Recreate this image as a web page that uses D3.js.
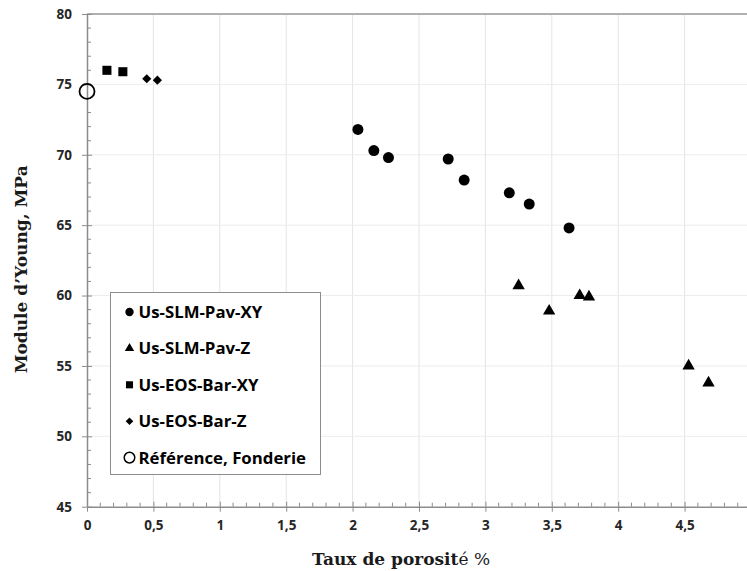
<!DOCTYPE html>
<html>
<head>
<meta charset="utf-8">
<script src="https://d3js.org/d3.v7.min.js"></script>
<style>
  body { margin: 0; background: #fff; }
  svg { display: block; }
  .tick-label { font-family: "Open Sans", sans-serif; font-weight: 700; font-size: 13.5px; fill: #262626; }
  .legend-label { font-family: "Open Sans", sans-serif; font-weight: 700; font-size: 16.8px; fill: #000; }
  .axis-title { font-family: "DejaVu Serif", serif; font-weight: 700; font-size: 17px; fill: #1a1a1a; }
</style>
</head>
<body>
<div id="chart"></div>
<script>
// porosity (%) vs Young's modulus
const slmPavXY_x = [2.04, 2.16, 2.27, 2.72, 2.84, 3.18, 3.33, 3.63];
const slmPavXY_y = [71.8, 70.3, 69.8, 69.7, 68.2, 67.3, 66.5, 64.8];
const slmPavZ_x = [3.25, 3.48, 3.71, 3.78, 4.53, 4.68];
const slmPavZ_y = [60.7, 58.9, 60.0, 59.9, 55.0, 53.8];
const eosBarXY_x = [0.15, 0.27];
const eosBarXY_y = [76.0, 75.9];
const eosBarZ_x = [0.45, 0.53];
const eosBarZ_y = [75.4, 75.3];
const ref_x = [0];
const ref_y = [74.5];

const seriesNames = ["Us-SLM-Pav-XY", "Us-SLM-Pav-Z", "Us-EOS-Bar-XY", "Us-EOS-Bar-Z", "Référence, Fonderie"];
const xTicks = [0, 0.5, 1, 1.5, 2, 2.5, 3, 3.5, 4, 4.5, 5];
const yTicks = [45, 50, 55, 60, 65, 70, 75, 80];

const W = 747, H = 571;
const pLeft = 87, pRight = 751, pTop = 14, pBottom = 506.7;

const svg = d3.select("#chart").append("svg")
    .attr("width", W).attr("height", H);

const x = d3.scaleLinear().domain([0, 5]).range([pLeft, pRight]);
const y = d3.scaleLinear().domain([45, 80]).range([pBottom, pTop]);

// gridlines
svg.append("g").selectAll("line").data(xTicks.filter(d => d > 0))
    .join("line")
    .attr("x1", d => x(d)).attr("x2", d => x(d))
    .attr("y1", pTop).attr("y2", pBottom)
    .attr("stroke", "#e4e4e4").attr("stroke-width", 1);
svg.append("g").selectAll("line").data(yTicks.filter(d => d > 45 && d < 80))
    .join("line")
    .attr("x1", pLeft).attr("x2", pRight)
    .attr("y1", d => y(d)).attr("y2", d => y(d))
    .attr("stroke", "#ececec").attr("stroke-width", 1);

// top border
svg.append("line")
    .attr("x1", pLeft).attr("x2", pRight)
    .attr("y1", pTop).attr("y2", pTop)
    .attr("stroke", "#b0b0b0").attr("stroke-width", 2);

// minor ticks
const axisColor = "#8c8c8c";
const xMinor = d3.range(0, 50).map(i => i / 10).filter(v => Math.round(v * 10) % 5 !== 0);
svg.append("g").selectAll("line").data(xMinor)
    .join("line")
    .attr("x1", d => x(d)).attr("x2", d => x(d))
    .attr("y1", pBottom).attr("y2", pBottom - 4)
    .attr("stroke", axisColor);
const yMinor = d3.range(45, 80).filter(v => v % 5 !== 0);
svg.append("g").selectAll("line").data(yMinor)
    .join("line")
    .attr("x1", pLeft).attr("x2", pLeft + 4)
    .attr("y1", d => y(d)).attr("y2", d => y(d))
    .attr("stroke", axisColor);

// x axis
const xAxis = svg.append("g")
    .attr("transform", `translate(0,${pBottom})`)
    .call(d3.axisBottom(x).tickValues(xTicks).tickSize(5).tickSizeOuter(0)
        .tickFormat(d => String(d).replace(".", ",")));
xAxis.select(".domain").attr("stroke", axisColor).attr("stroke-width", 1.5);
xAxis.selectAll(".tick line").attr("stroke", axisColor).attr("y1", -5);
xAxis.selectAll(".tick text").attr("class", "tick-label").attr("dy", "1.15em").attr("y", 8);

// y axis
const yAxis = svg.append("g")
    .attr("transform", `translate(${pLeft},0)`)
    .call(d3.axisLeft(y).tickValues(yTicks).tickSize(5).tickSizeOuter(0));
yAxis.select(".domain").attr("stroke", axisColor).attr("stroke-width", 1.5);
yAxis.selectAll(".tick line").attr("stroke", axisColor).attr("x1", 5);
yAxis.selectAll(".tick text").attr("class", "tick-label").attr("x", -15);

// markers
const diamond = r => `M0,${-r}L${r},0L0,${r}L${-r},0Z`;
const sym = {
    circle: d3.symbol(d3.symbolCircle, 95)(),
    triangle: d3.symbol(d3.symbolTriangle, 66)(),
    square: d3.symbol(d3.symbolSquare, 82)(),
    diamond: diamond(4.6)
};

function plot(xs, ys, path) {
    svg.append("g").selectAll("path").data(xs)
        .join("path")
        .attr("d", path)
        .attr("transform", (d, i) => `translate(${x(d)},${y(ys[i])})`)
        .attr("fill", "#000");
}
plot(slmPavXY_x, slmPavXY_y, sym.circle);
plot(slmPavZ_x, slmPavZ_y, sym.triangle);
plot(eosBarXY_x, eosBarXY_y, sym.square);
plot(eosBarZ_x, eosBarZ_y, sym.diamond);
svg.append("g").selectAll("circle").data(ref_x)
    .join("circle")
    .attr("cx", d => x(d)).attr("cy", (d, i) => y(ref_y[i]))
    .attr("r", 7.5)
    .attr("fill", "none").attr("stroke", "#000").attr("stroke-width", 1.8);

// legend
const lg = svg.append("g").attr("transform", "translate(110.5,292.5)");
lg.append("rect").attr("width", 210).attr("height", 182)
    .attr("fill", "#fff").attr("stroke", "#8c8c8c").attr("stroke-width", 1);
const legendSym = [
    d3.symbol(d3.symbolCircle, 55)(),
    d3.symbol(d3.symbolTriangle, 38)(),
    d3.symbol(d3.symbolSquare, 50)(),
    diamond(3.8),
    null
];
const lItems = lg.selectAll("g.item").data(seriesNames)
    .join("g").attr("class", "item")
    .attr("transform", (d, i) => `translate(0,${18.5 + i * 36.4})`);
lItems.each(function (d, i) {
    const g = d3.select(this);
    if (legendSym[i]) {
        g.append("path").attr("d", legendSym[i]).attr("transform", "translate(19,1)").attr("fill", "#000");
    } else {
        g.append("circle").attr("cx", 19).attr("cy", 1).attr("r", 5.3)
            .attr("fill", "none").attr("stroke", "#000").attr("stroke-width", 1.5);
    }
    g.append("text").attr("class", "legend-label")
        .attr("x", 28).attr("y", 7).text(d);
});

// axis titles
svg.append("text").attr("class", "axis-title")
    .attr("transform", `translate(27,${(pTop + pBottom) / 2 + 9}) rotate(-90)`)
    .attr("text-anchor", "middle")
    .text("Module d\u2019Young, MPa");

const xt = svg.append("text").attr("class", "axis-title")
    .attr("x", 401).attr("y", 565).attr("text-anchor", "middle");
xt.append("tspan").text("Taux de porosit");
xt.append("tspan").attr("font-weight", 400).text("é %");
</script>
</body>
</html>
